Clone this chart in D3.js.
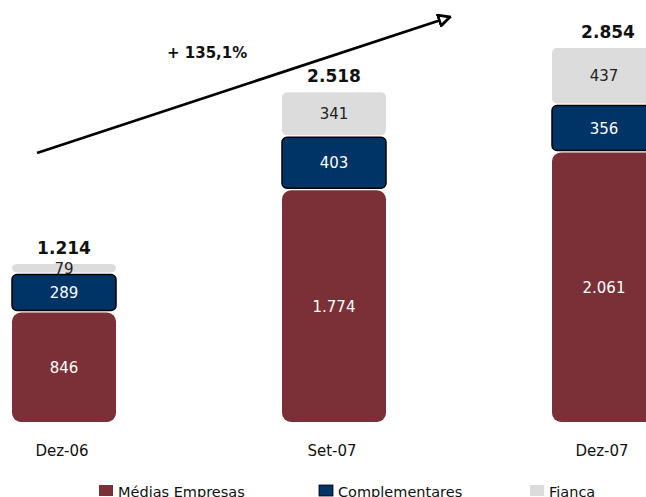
<!DOCTYPE html>
<html>
<head>
<meta charset="utf-8">
<script src="https://cdn.jsdelivr.net/npm/d3@7"></script>
<style>
  body { margin: 0; background: #fff; }
  text { font-family: "DejaVu Sans", Verdana, sans-serif; }
</style>
</head>
<body>
<div id="chart-container"></div>
<script>
const width = 646, height = 497;

const periods = ["Dez-06", "Set-07", "Dez-07"];
const medias = [846, 1774, 2061];
const complementares = [289, 403, 356];
const fianca = [79, 341, 437];
const totals = ["1.214", "2.518", "2.854"];
const seriesNames = ["Médias Empresas", "Complementares", "Fianca"];
const growthLabel = "+ 135,1%";

const colors = ["#7a3036", "#003366", "#dcdcdc"];

const svg = d3.select("#chart-container").append("svg")
  .attr("width", width)
  .attr("height", height);

const x = d3.scalePoint()
  .domain(periods)
  .range([64, 604]);
const barWidth = 104;

const y = d3.scaleLinear()
  .domain([0, 2854])
  .range([423, 47]);

// stack the three series
const rows = periods.map((p, i) => ({ period: p, medias: medias[i], comp: complementares[i], fianca: fianca[i] }));
const stack = d3.stack().keys(["medias", "comp", "fianca"]);
const layers = stack(rows);

const fmt = d3.formatLocale({ decimal: ",", thousands: ".", grouping: [3], currency: ["", ""] }).format(",d");

function drawLayer(li) {
  svg.append("g").attr("class", "layer-" + li)
    .selectAll("rect")
    .data(layers[li]).enter()
    .append("rect")
    .attr("x", d => x(d.data.period) - barWidth / 2)
    .attr("y", d => y(d[1]) + 1)
    .attr("width", barWidth)
    .attr("height", d => Math.max(0, y(d[0]) - y(d[1]) - 2))
    .attr("rx", li == 0 ? 9 : 5)
    .attr("fill", colors[li])
    .attr("stroke", li == 1 ? "#000" : "none")
    .attr("stroke-width", 1.5);
}

function drawLabels(li) {
  svg.append("g").selectAll("text")
    .data(layers[li]).enter()
    .append("text")
    .attr("x", d => x(d.data.period))
    .attr("y", d => (y(d[0]) + y(d[1])) / 2 + 5.5)
    .attr("text-anchor", "middle")
    .attr("font-size", "15px")
    .attr("fill", li == 2 ? "#222" : "#fff")
    .text(d => fmt(d[1] - d[0]));
}

// fianca first, so the blue bar covers the bottom of the small "79"
drawLayer(2);
drawLabels(2);
drawLayer(0);
drawLabels(0);
drawLayer(1);
drawLabels(1);

// totals
svg.append("g").selectAll("text")
  .data(totals).enter()
  .append("text")
  .attr("x", (d, i) => x(periods[i]) + (i == 2 ? 4 : 0))
  .attr("y", (d, i) => y(medias[i] + complementares[i] + fianca[i]) - 9)
  .attr("text-anchor", "middle")
  .attr("font-size", "17px")
  .attr("font-weight", "bold")
  .attr("fill", "#111")
  .text(d => d);

// category labels
svg.append("g").selectAll("text")
  .data(periods).enter()
  .append("text")
  .attr("x", d => x(d) - 2)
  .attr("y", 456)
  .attr("text-anchor", "middle")
  .attr("font-size", "15px")
  .attr("fill", "#111")
  .text(d => d);

// growth arrow
svg.append("defs").append("marker")
  .attr("id", "arrow")
  .attr("viewBox", "0 0 10 10")
  .attr("refX", 9).attr("refY", 5)
  .attr("markerWidth", 5).attr("markerHeight", 5)
  .attr("orient", "auto")
  .append("path")
  .attr("d", "M1,1 L9,5 L1,9 Z")
  .attr("fill", "#fff")
  .attr("stroke", "#000")
  .attr("stroke-width", 2);

svg.append("line")
  .attr("x1", 37).attr("y1", 153)
  .attr("x2", 450).attr("y2", 17)
  .attr("stroke", "#000")
  .attr("stroke-width", 2.8)
  .attr("marker-end", "url(#arrow)");

svg.append("text")
  .attr("x", 167).attr("y", 58)
  .attr("font-size", "15px")
  .attr("font-weight", "bold")
  .attr("fill", "#111")
  .text(growthLabel);

// legend
const legendX = [99, 319, 530];
const legend = svg.append("g").selectAll("g")
  .data(seriesNames).enter()
  .append("g")
  .attr("transform", (d, i) => "translate(" + legendX[i] + ",485)");
legend.append("rect")
  .attr("width", 14).attr("height", 11)
  .attr("fill", (d, i) => colors[i])
  .attr("stroke", (d, i) => i == 1 ? "#000" : "none")
  .attr("stroke-width", 0.8);
legend.append("text")
  .attr("x", 19).attr("y", 12)
  .attr("font-size", "14.5px")
  .attr("fill", "#111")
  .text(d => d);
</script>
</body>
</html>
